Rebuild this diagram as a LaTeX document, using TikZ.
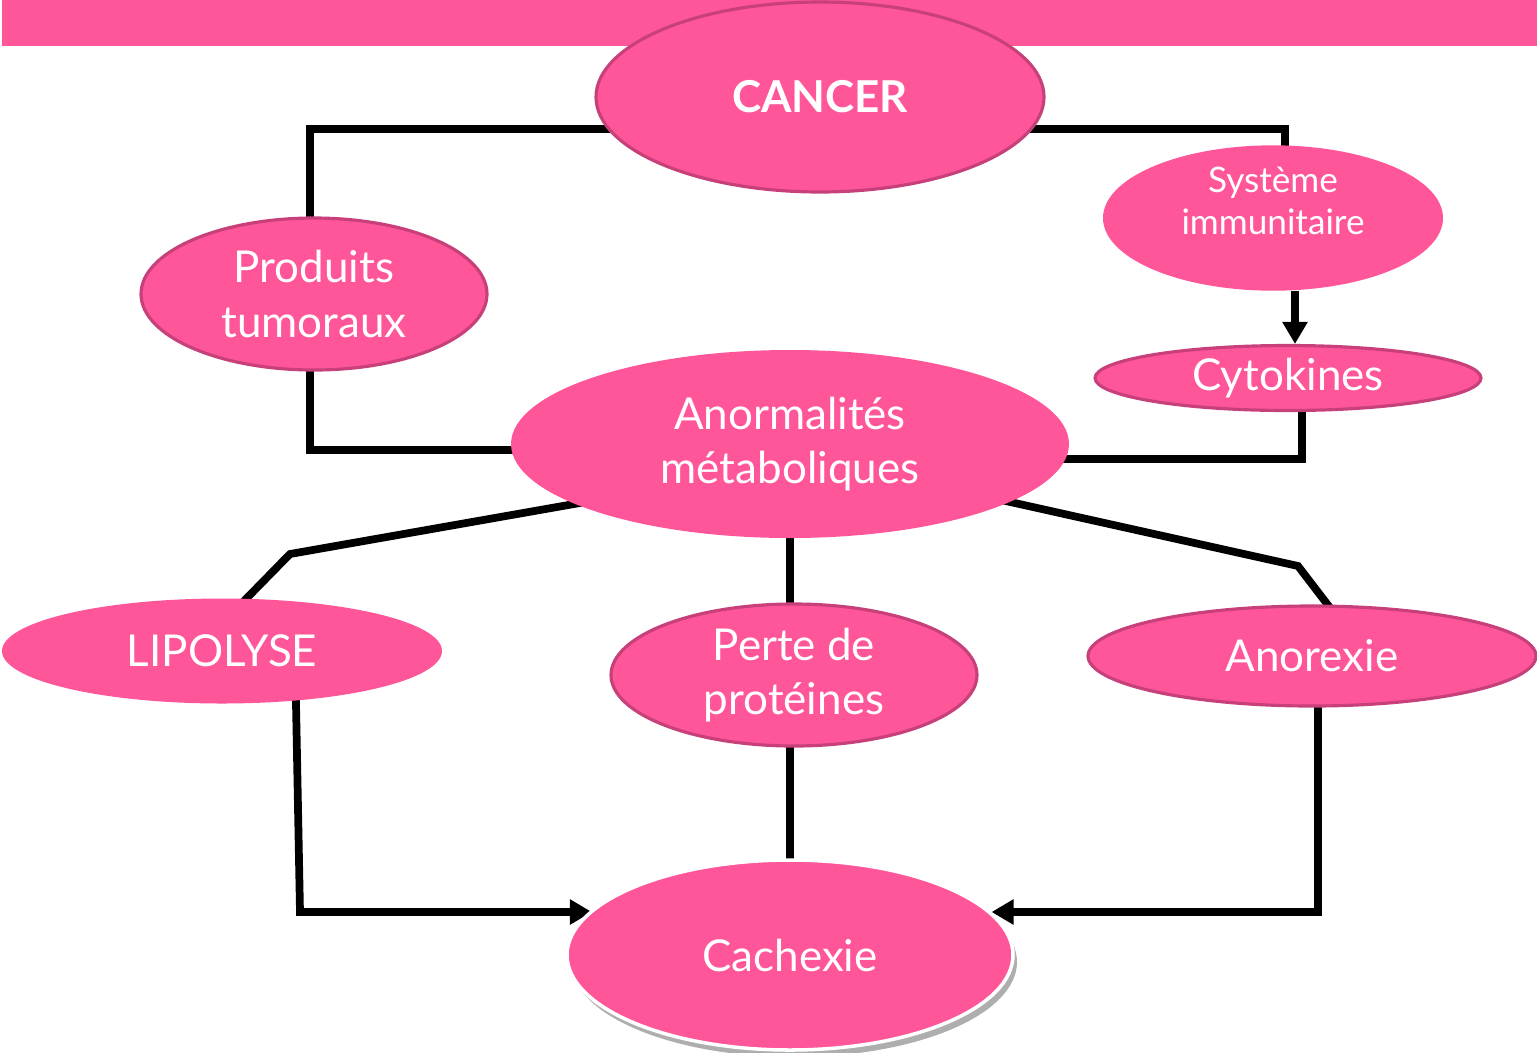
\documentclass[tikz,border=0pt]{standalone}
\usepackage{fontspec}
\setmainfont{Lato}
\usepackage{tikz}
\usetikzlibrary{calc}
\usetikzlibrary{arrows.meta}
\usetikzlibrary{shapes.geometric,shadows,backgrounds}
\definecolor{rose}{rgb}{1.,0.333,0.6}
\definecolor{roseborder}{rgb}{0.78,0.25,0.48}
\tikzstyle{every node}=[font=\fontsize{12.5}{15.6}\selectfont]
\tikzstyle{bulle}=[ellipse,fill=rose,text=white,inner sep=0pt,align=center]
\tikzstyle{bord}=[draw=roseborder,line width=0.9pt]
\tikzstyle{lien}=[line width=2.2pt,draw=black]

\begin{document}
\begin{tikzpicture}[line cap=rect,line join=miter,>={Triangle[length=2.2mm,width=2.4mm]},x=0.1mm,y=-0.1mm]
\useasboundingbox (0,0) rectangle (1537,1052);
\fill [rose] (2,0) rectangle (1537,46);
% ellipses
\node [bulle,bord,minimum width=44.8mm,minimum height=19mm] (cancer) at (820,97) {\fontsize{12.5}{15}\selectfont\bfseries CANCER};
\node [bulle,bord,minimum width=34.6mm,minimum height=15.2mm] (produits) at (314,294) {Produits\\tumoraux};
\node [bulle,minimum width=34mm,minimum height=13mm,font=\fontsize{10}{12}\selectfont] (systeme) at (1273,218) {Système\\immunitaire\\[-2pt]\mbox{}};
\node [bulle,bord,minimum width=38.6mm,minimum height=6.5mm] (cytokines) at (1288,378) {Cytokines};
\node [bulle,minimum width=55.8mm,minimum height=18.8mm] (anormalites) at (790,444) {Anormalités\\métaboliques};
\node [bulle,minimum width=44mm,minimum height=10.5mm] (lipolyse) at (222,651) {LIPOLYSE};
\node [bulle,bord,minimum width=36.6mm,minimum height=14.2mm] (perte) at (794,675) {Perte de\\protéines};
\node [bulle,bord,minimum width=44.8mm,minimum height=10mm] (anorexie) at (1312,656) {Anorexie};
\node [bulle,draw=white,line width=1pt,minimum width=44.6mm,minimum height=19mm,
  drop shadow={shadow xshift=0.4mm,shadow yshift=-0.7mm,opacity=0.45,fill=black!70}] (cachexie) at (790,955) {Cachexie};
\coordinate (coudeL) at (290,554);
\coordinate (coudeR) at (1298,566);
\coordinate (coudeB) at (300,912);
% liens
\begin{pgfonlayer}{background}
\draw [lien] ([yshift=-3.2mm]cancer.center) -| ([xshift=-0.4mm]produits.center);
\draw [lien] ([yshift=-3.2mm]cancer.center) -| ([xshift=1.2mm]systeme.center);
\draw [lien,->] ([xshift=2.2mm]systeme.south) -- ([xshift=2.2mm]systeme.south |- cytokines.north);
\draw [lien] ([xshift=1.4mm]cytokines.center) |- ([yshift=-1.5mm]anormalites.center);
\draw [lien] ([xshift=-0.4mm]produits.center) |- ([yshift=-0.6mm]anormalites.center);
\draw [lien] ([yshift=-2.2mm]anormalites.center) -- (coudeL) -- ([xshift=-2.7mm]lipolyse.center);
\draw [lien] (anormalites.center) -- (anormalites.center |- perte.center);
\draw [lien] ([yshift=-0.9mm]anormalites.center) -- (coudeR) -- ([xshift=5.5mm]anorexie.center);
\draw [lien,->] ([xshift=7.3mm]lipolyse.center) -- (coudeB) -- (coudeB -| cachexie.167.8);
\draw [lien] (cachexie.center) -- (cachexie.center |- perte.center);
\draw [lien,->] ([xshift=0.6mm]anorexie.center) |- (coudeB -| cachexie.12.2);
\end{pgfonlayer}
\end{tikzpicture}
\end{document}
